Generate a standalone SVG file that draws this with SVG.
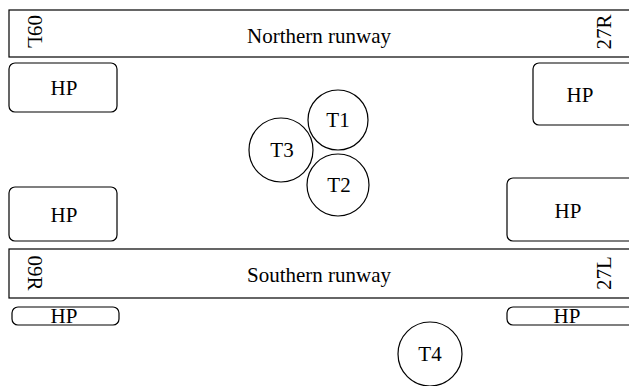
<svg xmlns="http://www.w3.org/2000/svg" width="629" height="386" viewBox="0 0 629 386">
<style>
.s{fill:#fff;stroke:#000;stroke-width:1.2}
text{font-family:"Liberation Serif","Times New Roman",serif;font-size:21px;fill:#000;text-anchor:middle}
</style>
<rect width="629" height="386" fill="#fff"/>
<g id="north-runway">
<rect class="s" x="9" y="10" width="640" height="47"/>
<text x="319" y="43">Northern runway</text>
<text transform="translate(33,32) rotate(90)" dominant-baseline="middle">09L</text>
<text transform="translate(606,32) rotate(-90)" dominant-baseline="middle">27R</text>
</g>
<g id="south-runway">
<rect class="s" x="9" y="249" width="640" height="49"/>
<text x="319" y="282">Southern runway</text>
<text transform="translate(33,273) rotate(90)" dominant-baseline="middle">09R</text>
<text transform="translate(606,273) rotate(-90)" dominant-baseline="middle">27L</text>
</g>
<g id="hp-tl"><rect class="s" x="9" y="63" width="108" height="49" rx="6"/><text x="64" y="95">HP</text></g>
<g id="hp-tr"><rect class="s" x="533" y="63" width="110" height="62" rx="6"/><text x="580" y="102">HP</text></g>
<g id="hp-ml"><rect class="s" x="9" y="187" width="108" height="54" rx="6"/><text x="64" y="222">HP</text></g>
<g id="hp-mr"><rect class="s" x="507" y="178" width="130" height="63" rx="6"/><text x="568" y="218">HP</text></g>
<g id="hp-bl"><rect class="s" x="12" y="307" width="107" height="18" rx="6"/><text x="64" y="323">HP</text></g>
<g id="hp-br"><rect class="s" x="507" y="307" width="130" height="18" rx="6"/><text x="567" y="323">HP</text></g>
<g id="t1"><circle class="s" cx="338" cy="120" r="30"/><text x="338" y="127">T1</text></g>
<g id="t3"><circle class="s" cx="281" cy="150" r="32"/><text x="282" y="157">T3</text></g>
<g id="t2"><circle class="s" cx="338" cy="185" r="31"/><text x="339" y="192">T2</text></g>
<g id="t4"><circle class="s" cx="430" cy="354" r="32"/><text x="430" y="361">T4</text></g>
<g id="connectors"/>
</svg>
